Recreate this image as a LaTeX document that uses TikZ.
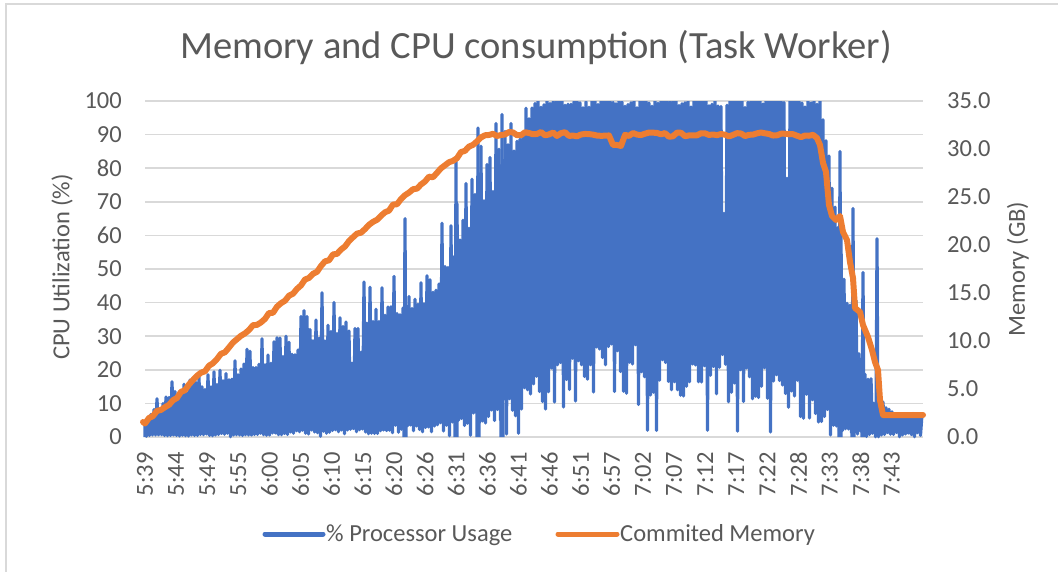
\documentclass[tikz,border=0pt]{standalone}
\usepackage{fontspec}
\setmainfont{Carlito}
\definecolor{cpublue}{HTML}{4472C4}
\definecolor{memorange}{HTML}{ED7D31}
\definecolor{gridgray}{HTML}{D9D9D9}
\definecolor{labelgray}{HTML}{595959}
\definecolor{framegray}{HTML}{D9D9D9}

% CPU envelope knots (percent), one every 26 px from x = 145
\def\cpuTop{{4,12,14,16,20,23,26,30,32,35,38,42,55,70,82,102,102,102,102,102,102,102,102,102,102,102,102,40,9,6.5,6.5}}
\def\cpuSpike{{7,18,19,22,30,32,38,45,46,48,50,58,76,88,100,102,102,102,102,102,102,102,102,102,102,102,102,55,15,7.5,7.5}}
\def\cpuLow{{0.5,0.5,0.5,1,1,1,1.5,2,2,2,3,3,4,6,9,14,19,21,23,21,19,21,19,17,15,13,8,2,1,1,1}}
% committed memory knots (pixel row), same spacing
\def\memRow{{422,402,377,352,330,310,285,261,238,217,197,177,157,137,133,134,134,135,136,134,135,134,134,135,134,135,137}}

\begin{document}
\begin{tikzpicture}[x=1pt,y=-1pt,
  lbl/.style={text=labelgray,font=\fontsize{24.5}{29}\selectfont,inner sep=0pt},
  gridline/.style={draw=gridgray,line width=1.5pt},
  cpuline/.style={draw=cpublue,line width=3.2pt,line join=round},
  memline/.style={draw=memorange,line width=6pt,line join=round,line cap=round},
  keyline/.style={line width=5pt,line cap=round}]
\useasboundingbox (0,0) rectangle (1058,571);
\fill[white] (0,0) rectangle (1058,571);
\draw[framegray,line width=2.2pt] (6,573) -- (6,4) -- (1060,4);

% title
\node[lbl,font=\fontsize{38.5}{46}\selectfont] (title) at (536,48) {Memory and CPU consumption (Task Worker)};

% horizontal grid
\foreach \k in {0,...,10}
  \draw[gridline] (145,{437-33.6*\k}) -- (923,{437-33.6*\k});

% left axis ticks
\foreach \v [count=\k from 0] in {0,10,20,30,40,50,60,70,80,90,100}
  \node[lbl,anchor=east] (cputick\k) at (122,{437-33.6*\k}) {\v};
% right axis ticks
\foreach \v [count=\k from 0] in {0.0,5.0,10.0,15.0,20.0,25.0,30.0,35.0}
  \node[lbl,anchor=west] (memtick\k) at (947,{437-48*\k}) {\v};
% time ticks
\foreach \t [count=\k from 0] in {5:39,5:44,5:49,5:55,6:00,6:05,6:10,6:15,6:20,6:26,6:31,6:36,6:41,6:46,6:51,6:57,7:02,7:07,7:12,7:17,7:22,7:28,7:33,7:38,7:43}
  \node[lbl,rotate=90,anchor=east] (time\k) at ({145+31.12*\k},452) {\t};

% axis titles
\node[lbl,rotate=90] (cpuaxis) at (62,267) {CPU Utilization (\%)};
\node[lbl,rotate=90] (memaxis) at (1018,269) {Memory (GB)};

% processor usage series
\pgfmathsetseed{271}
\gdef\cpupath{(145,437)}
\foreach \i in {0,...,518}{%
  \pgfmathsetmacro\cX{145+1.5*\i}%
  \pgfmathsetmacro\cT{(\cX-145)/26}%
  \pgfmathtruncatemacro\cA{floor(\cT)}%
  \pgfmathtruncatemacro\cB{min(\cA+1,30)}%
  \pgfmathsetmacro\cF{\cT-\cA}%
  \pgfmathsetmacro\cU{\cpuTop[\cA]*(1-\cF)+\cpuTop[\cB]*\cF}%
  \pgfmathsetmacro\cS{\cpuSpike[\cA]*(1-\cF)+\cpuSpike[\cB]*\cF}%
  \pgfmathsetmacro\cL{\cpuLow[\cA]*(1-\cF)+\cpuLow[\cB]*\cF}%
  \pgfmathsetmacro\cR{rnd}%
  \ifodd\i
    \pgfmathsetmacro\cV{\cR<0.05 ? \cL*0.1 : \cL*(0.45+0.9*rnd)}%
  \else
    \pgfmathsetmacro\cV{\cR<0.035 ? \cU*(0.55+0.35*rnd) : \cU*(0.96+0.04*rnd)+max(\cS-\cU,0)*pow(rnd,2.5)}%
  \fi
  \pgfmathsetmacro\cY{437-3.36*\cV}%
  \xdef\cpupath{\cpupath -- (\cX,\cY)}%
}
\begin{scope}
  \clip (140,101) rectangle (925,440);
  \edef\cpudraw{\noexpand\draw[cpuline] \cpupath;}\cpudraw
  \foreach \sx/\sv in {405/65,456/82,478/92,502/96,840/85,853/68,863/49,877/59}
    \draw[cpuline] (\sx-1,437) -- (\sx,{437-3.36*\sv}) -- (\sx+1,437);
\end{scope}

% committed memory series
\gdef\mempath{(143,422)}
\foreach \i in {0,...,167}{%
  \pgfmathsetmacro\mX{145+4*\i}%
  \pgfmathsetmacro\mT{(\mX-145)/26}%
  \pgfmathtruncatemacro\mA{floor(\mT)}%
  \pgfmathtruncatemacro\mB{min(\mA+1,26)}%
  \pgfmathsetmacro\mF{\mT-\mA}%
  \pgfmathsetmacro\mY{\memRow[\mA]*(1-\mF)+\memRow[\mB]*\mF+4*(rnd-0.5)+10*(abs(\mX-617)<5)}%
  \xdef\mempath{\mempath -- (\mX,\mY)}%
}
\edef\memdraw{\noexpand\draw[memline] \mempath -- (817,138) -- (820,145) -- (823,163) -- (826,172) -- (829,205) -- (832,216) -- (836,220) -- (840,216) -- (843,232) -- (847,240) -- (850,262) -- (853,278) -- (855,308) -- (860,312) -- (863,325) -- (868,337) -- (872,350) -- (875,362) -- (878,370) -- (880,400) -- (883,415) -- (923,415);}\memdraw

% legend
\coordinate (cpukeyA) at (265,534);
\coordinate (cpukeyB) at (323,534);
\draw[keyline,draw=cpublue] (cpukeyA) -- (cpukeyB);
\node[lbl,anchor=west] (cpulegend) at (326,535) {\% Processor Usage};
\coordinate (memkeyA) at (558,534);
\coordinate (memkeyB) at (617,534);
\draw[keyline,draw=memorange] (memkeyA) -- (memkeyB);
\node[lbl,anchor=west] (memlegend) at (620,535) {Commited Memory};
\end{tikzpicture}
\end{document}
